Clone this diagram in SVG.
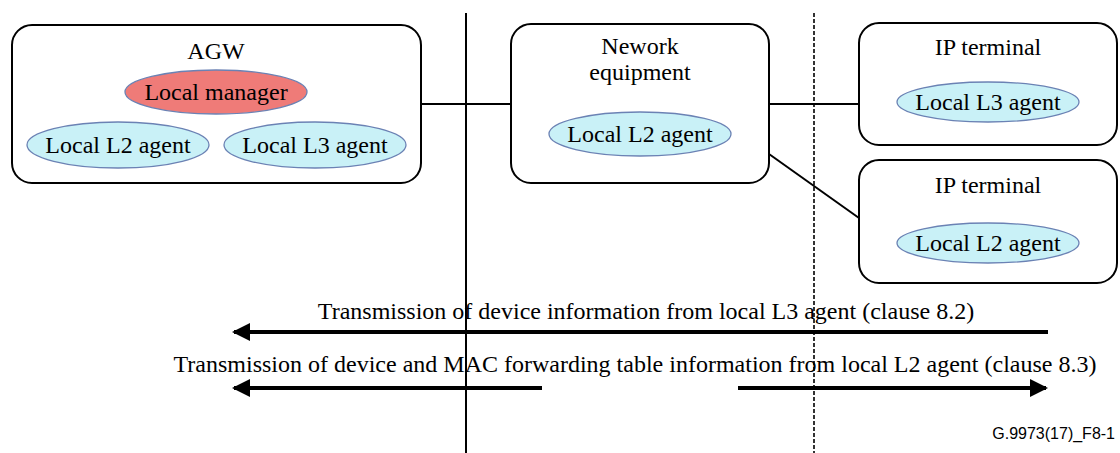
<svg xmlns="http://www.w3.org/2000/svg" width="1120" height="453" viewBox="0 0 1120 453">
<style>
.box{fill:#fff;stroke:#000;stroke-width:2}
.t{font-family:'Liberation Serif','Times New Roman',serif;font-size:24px;fill:#000;text-anchor:middle}
.agent{fill:#c9f1f7;stroke:#6b82b4;stroke-width:1.3}
.mgr{fill:#ef7b78;stroke:#6b82b4;stroke-width:1.3}
.ln{stroke:#000;stroke-width:2;fill:none}
.arr{stroke:#000;stroke-width:4;fill:none}
</style>
<defs>
<marker id="ah" viewBox="0 0 18 18" refX="16" refY="9" markerWidth="18" markerHeight="18" markerUnits="userSpaceOnUse" orient="auto">
<path d="M0,0 L18,9 L0,18 Z" fill="#000"/>
</marker>
</defs>
<rect width="1120" height="453" fill="#fff"/>
<g id="connectors">
<line class="ln" x1="466" y1="13" x2="466" y2="453"/>
<line x1="814" y1="13" x2="814" y2="453" stroke="#000" stroke-width="1.6" stroke-dasharray="4,2"/>
<line class="ln" x1="421" y1="104" x2="511" y2="104"/>
<line class="ln" x1="769" y1="104" x2="859" y2="104"/>
<line class="ln" x1="769" y1="154" x2="859" y2="218"/>
<line class="arr" x1="1048" y1="332" x2="234" y2="332" marker-end="url(#ah)"/>
<line class="arr" x1="542" y1="388" x2="234" y2="388" marker-end="url(#ah)"/>
<line class="arr" x1="738" y1="388" x2="1046" y2="388" marker-end="url(#ah)"/>
</g>
<g id="agw">
<rect class="box" x="12" y="25" width="409" height="158" rx="20"/>
<text class="t" x="216" y="59">AGW</text>
<ellipse class="mgr" cx="216" cy="92" rx="91" ry="22"/>
<text class="t" x="216" y="100">Local manager</text>
<ellipse class="agent" cx="118" cy="145" rx="91" ry="23"/>
<text class="t" x="118" y="153">Local L2 agent</text>
<ellipse class="agent" cx="315" cy="145" rx="91" ry="23"/>
<text class="t" x="315" y="153">Local L3 agent</text>
</g>
<g id="network">
<rect class="box" x="511" y="24" width="258" height="159" rx="20"/>
<text class="t" x="640" y="54">Nework</text>
<text class="t" x="640" y="80">equipment</text>
<ellipse class="agent" cx="640" cy="134" rx="91" ry="22"/>
<text class="t" x="640" y="142">Local L2 agent</text>
</g>
<g id="ipterminal1">
<rect class="box" x="859" y="23" width="258" height="122" rx="20"/>
<text class="t" x="988" y="55">IP terminal</text>
<ellipse class="agent" cx="988" cy="102" rx="91" ry="20"/>
<text class="t" x="988" y="110">Local L3 agent</text>
</g>
<g id="ipterminal2">
<rect class="box" x="859" y="160" width="258" height="123" rx="20"/>
<text class="t" x="988" y="193">IP terminal</text>
<ellipse class="agent" cx="988" cy="243" rx="91" ry="20"/>
<text class="t" x="988" y="251">Local L2 agent</text>
</g>
<g id="labels">
<text class="t" x="646" y="319">Transmission of device information from local L3 agent (clause 8.2)</text>
<text class="t" x="635" y="372">Transmission of device and MAC forwarding table information from local L2 agent (clause 8.3)</text>
<text x="1115" y="439" font-family="Liberation Sans, Arial, sans-serif" font-size="16" text-anchor="end">G.9973(17)_F8-1</text>
</g>
</svg>
